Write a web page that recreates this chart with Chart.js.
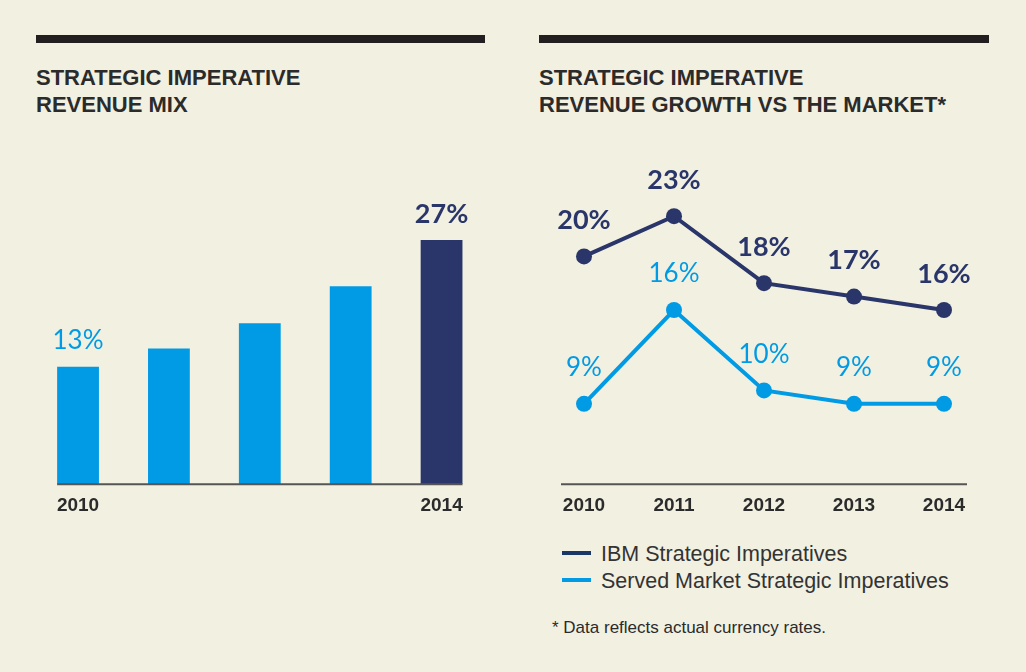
<!DOCTYPE html>
<html>
<head>
  <title>Strategic Imperatives</title>
  <meta name="viewport" content="width=device-width, initial-scale=1.0">
  <script src="https://cdn.jsdelivr.net/npm/chart.js"></script>
  <style>
    body {
      margin: 0;
      padding: 0;
      background: #f2f0e1;
      color: #2b2b2b;
      font-family: "Liberation Sans", Arial, sans-serif;
    }
    #page { position: relative; width: 1026px; height: 672px; overflow: hidden; }
    .rule { position: absolute; top: 35px; height: 8px; background: #231f20; }
    .title {
      position: absolute; top: 64px;
      font-weight: bold; font-size: 22px; line-height: 27px;
      color: #2b2b2b;
    }
    .box { position: absolute; top: 140px; height: 391px; }
    #legend { position: absolute; left: 562px; top: 541px; font-size: 21.5px; color: #333; }
    #legend div { height: 27px; line-height: 27px; white-space: nowrap; }
    #legend span.key { display: inline-block; width: 29px; height: 4px; vertical-align: middle; margin-right: 10px; position: relative; top: -2px; }
    #note { position: absolute; left: 552px; top: 618px; font-size: 17px; color: #2b2b2b; }
  </style>
</head>
<body>
<div id="page">
  <div class="rule" style="left:36px;width:449px"></div>
  <div class="rule" style="left:539px;width:450px"></div>
  <div class="title" style="left:36px">STRATEGIC IMPERATIVE<br>REVENUE MIX</div>
  <div class="title" style="left:539px">STRATEGIC IMPERATIVE<br>REVENUE GROWTH VS THE MARKET*</div>

  <div class="box" style="left:0;width:500px"><canvas id="mixChart"></canvas></div>
  <div class="box" style="left:520px;width:506px"><canvas id="growthChart"></canvas></div>

  <div id="legend"></div>
  <div id="note">* Data reflects actual currency rates.</div>
</div>
<script>
  // data
  const years = ['2010', '2011', '2012', '2013', '2014'];
  const mixTicks = ['2010', '', '', '', '2014'];
  const mixValues = [13, 15, 17.8, 21.9, 27];
  const mixLabels = ['13%', '', '', '', '27%'];
  const ibmGrowth = [20, 23, 18, 17, 16];
  const marketGrowth = [9, 16, 10, 9, 9];
  const seriesNames = ['IBM Strategic Imperatives', 'Served Market Strategic Imperatives'];

  const NAVY = '#2a3669';
  const BLUE = '#009be4';
  const AXIS = '#555555';

  Chart.defaults.font.family = '"Liberation Sans", Arial, sans-serif';
  Chart.defaults.animation = false;

  // baseline that only spans the marks, plus value labels
  const decor = {
    id: 'decor',
    afterDatasetsDraw(chart, args, opts) {
      const ctx = chart.ctx;
      const xs = chart.scales.x;
      const y0 = chart.chartArea.bottom;
      let x1, x2;
      if (chart.config.type === 'bar') {
        const bars = chart.getDatasetMeta(0).data;
        x1 = bars[0].x - bars[0].width / 2;
        x2 = bars[bars.length - 1].x + bars[bars.length - 1].width / 2;
      } else {
        x1 = xs.getPixelForValue(0) - opts.extend;
        x2 = xs.getPixelForValue(years.length - 1) + opts.extend;
      }
      ctx.save();
      ctx.strokeStyle = AXIS;
      ctx.lineWidth = 2;
      ctx.beginPath();
      ctx.moveTo(x1, y0);
      ctx.lineTo(x2, y0);
      ctx.stroke();

      ctx.textAlign = 'center';
      ctx.textBaseline = 'middle';
      chart.data.datasets.forEach((ds, di) => {
        const meta = chart.getDatasetMeta(di);
        meta.data.forEach((el, i) => {
          const txt = ds.valueLabels[i];
          if (!txt) return;
          const col = Array.isArray(ds.backgroundColor) ? ds.backgroundColor[i] : ds.borderColor;
          ctx.fillStyle = col;
          ctx.font = col === NAVY ? 'bold 27px Lato, sans-serif' : '26px Lato, sans-serif';
          ctx.fillText(txt, el.x, el.y - opts.lift);
        });
      });
      ctx.restore();
    }
  };

  const tickFont = { size: 19, weight: 'bold' };

  new Chart(document.getElementById('mixChart'), {
    type: 'bar',
    data: {
      labels: mixTicks,
      datasets: [{
        data: mixValues,
        valueLabels: mixLabels,
        backgroundColor: mixValues.map((v, i) => i === mixValues.length - 1 ? NAVY : BLUE),
        categoryPercentage: 1,
        barPercentage: 0.46
      }]
    },
    options: {
      responsive: true,
      maintainAspectRatio: false,
      layout: { padding: { left: 32.6, right: 13, top: 73, bottom: 4 } },
      plugins: {
        legend: { display: false },
        tooltip: { enabled: false },
        decor: { lift: 26 }
      },
      scales: {
        x: {
          grid: { display: false, drawTicks: false },
          border: { display: false },
          ticks: { color: '#2b2b2b', font: tickFont, padding: 10, maxRotation: 0, autoSkip: false }
        },
        y: { display: false, min: 0, max: 30 }
      }
    },
    plugins: [decor]
  });

  new Chart(document.getElementById('growthChart'), {
    type: 'line',
    data: {
      labels: years,
      datasets: [
        {
          label: seriesNames[0],
          data: ibmGrowth,
          valueLabels: ibmGrowth.map(v => v + '%'),
          borderColor: NAVY,
          backgroundColor: NAVY,
          borderWidth: 4,
          pointRadius: 8,
          pointBorderWidth: 0,
          tension: 0
        },
        {
          label: seriesNames[1],
          data: marketGrowth,
          valueLabels: marketGrowth.map(v => v + '%'),
          borderColor: BLUE,
          backgroundColor: BLUE,
          borderWidth: 4,
          pointRadius: 8,
          pointBorderWidth: 0,
          tension: 0
        }
      ]
    },
    options: {
      responsive: true,
      maintainAspectRatio: false,
      layout: { padding: { left: 19, right: 37, top: 36, bottom: 4 } },
      plugins: {
        legend: { display: false },
        tooltip: { enabled: false },
        decor: { lift: 36, extend: 23 }
      },
      scales: {
        x: {
          offset: true,
          grid: { display: false, drawTicks: false },
          border: { display: false },
          ticks: { color: '#2b2b2b', font: tickFont, padding: 10, maxRotation: 0 }
        },
        y: { display: false, min: 3, max: 26 }
      }
    },
    plugins: [decor]
  });

  // legend
  const legendColors = ['#1b3768', BLUE];
  document.getElementById('legend').innerHTML = seriesNames.map((n, i) =>
    '<div><span class="key" style="background:' + legendColors[i] + '"></span>' + n + '</div>'
  ).join('');
</script>
</body>
</html>
